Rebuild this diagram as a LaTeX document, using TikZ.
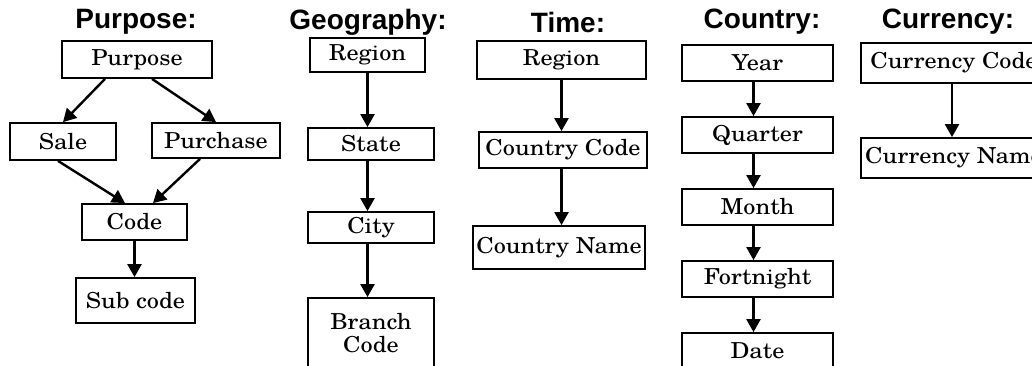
\documentclass[tikz,border=0pt]{standalone}
\usepackage{fontspec}
\newfontfamily\headfont{Liberation Sans}
\newfontfamily\boxfont{texgyreschola-regular.otf}[FakeStretch=1.1]
\usetikzlibrary{arrows.meta, positioning}
\tikzset{
  lvlbox/.style={draw, line width=1.8pt, inner sep=0pt, align=center,
    font=\boxfont\fontsize{22}{23}\selectfont},
  hdr/.style={font=\headfont\bfseries\fontsize{28}{30}\selectfont},
  arr/.style={line width=2.4pt, -{Triangle[width=14pt,length=13pt]}},
}

\begin{document}
\begin{tikzpicture}[x=1pt, y=-1pt]
    % Five dimension hierarchies side by side, heading on top of each.
    \useasboundingbox (0,0) rectangle (1032,366);
    \clip (0,0) rectangle (1032,366);

    % --- Purpose ---
    \node[hdr] (hpurp) at (136,22) {Purpose:};
    \node[lvlbox, minimum width=150pt, minimum height=37pt] (purp)   at (137,59.5)  {Purpose};
    \node[lvlbox, minimum width=106pt, minimum height=37pt] (sale)   at (63,141.5)  {Sale};
    \node[lvlbox, minimum width=128pt, minimum height=35pt] (purch)  at (216,140.5) {Purchase};
    \node[lvlbox, minimum width=105pt, minimum height=36pt] (code)   at (134.5,222) {Code};
    \node[lvlbox, minimum width=119pt, minimum height=45pt] (subc)   at (135.5,300.5) {Sub code};
    \draw[arr] ([xshift=-32pt]purp.south) -- (sale.north);
    \draw[arr] ([xshift=15pt]purp.south) -- (purch.north);
    \draw[arr] ([xshift=-5pt]sale.south) -- ([xshift=-9.5pt]code.north);
    \draw[arr] ([xshift=-16pt]purch.south) -- ([xshift=18.5pt]code.north);
    \draw[arr] (code.south) -- (code.south |- subc.north);

    % --- Geography ---
    \node[hdr] (hgeo) at (368,22) {Geography:};
    \node[lvlbox, minimum width=115pt, minimum height=34pt] (greg)   at (367.5,55) {Region};
    \node[lvlbox, minimum width=126pt, minimum height=32pt] (state)  at (371,144)  {State};
    \node[lvlbox, minimum width=126pt, minimum height=31pt] (city)   at (371,227.5) {City};
    \node[lvlbox, minimum width=126pt, minimum height=70pt] (branch) at (371,333)  {Branch\\Code};
    \draw[arr] (greg.south) -- (greg.south |- state.north);
    \draw[arr] (greg.south |- state.south) -- (greg.south |- city.north);
    \draw[arr] (greg.south |- city.south) -- (greg.south |- branch.north);

    % --- Time ---
    \node[hdr] (htime) at (568,22) {Time:};
    \node[lvlbox, minimum width=169pt, minimum height=38pt] (treg)   at (561.5,60) {Region};
    \node[lvlbox, minimum width=168pt, minimum height=36pt] (ccode)  at (563,150)  {Country Code};
    \node[lvlbox, minimum width=172pt, minimum height=43pt] (cname)  at (559,247.5) {Country Name};
    \draw[arr] (treg.south) -- (treg.south |- ccode.north);
    \draw[arr] (treg.south |- ccode.south) -- (treg.south |- cname.north);

    % --- Country ---
    \node[hdr] (hctry) at (762,22) {Country:};
    \node[lvlbox, minimum width=151pt, minimum height=36pt] (year)   at (757.5,63)  {Year};
    \node[lvlbox, minimum width=151pt, minimum height=36pt] (qtr)    at (757.5,135) {Quarter};
    \node[lvlbox, minimum width=151pt, minimum height=36pt] (month)  at (757.5,207) {Month};
    \node[lvlbox, minimum width=151pt, minimum height=36pt] (fortn)  at (757.5,279) {Fortnight};
    \node[lvlbox, minimum width=151pt, minimum height=36pt] (date)   at (757.5,351) {Date};
    \draw[arr] ([xshift=-4pt]year.south)  -- ([xshift=-4pt]qtr.north);
    \draw[arr] ([xshift=-4pt]qtr.south)   -- ([xshift=-4pt]month.north);
    \draw[arr] ([xshift=-4pt]month.south) -- ([xshift=-4pt]fortn.north);
    \draw[arr] ([xshift=-4pt]fortn.south) -- ([xshift=-4pt]date.north);

    % --- Currency (boxes run off the right edge) ---
    \node[hdr] (hcur) at (948,22) {Currency:};
    \node[lvlbox, minimum width=186pt, minimum height=40pt] (curc)   at (954,63)  {Currency Code};
    \node[lvlbox, minimum width=186pt, minimum height=40pt] (curn)   at (954,158) {Currency Name};
    \draw[arr] ([xshift=-2pt]curc.south) -- ([xshift=-2pt]curn.north);
\end{tikzpicture}
\end{document}
